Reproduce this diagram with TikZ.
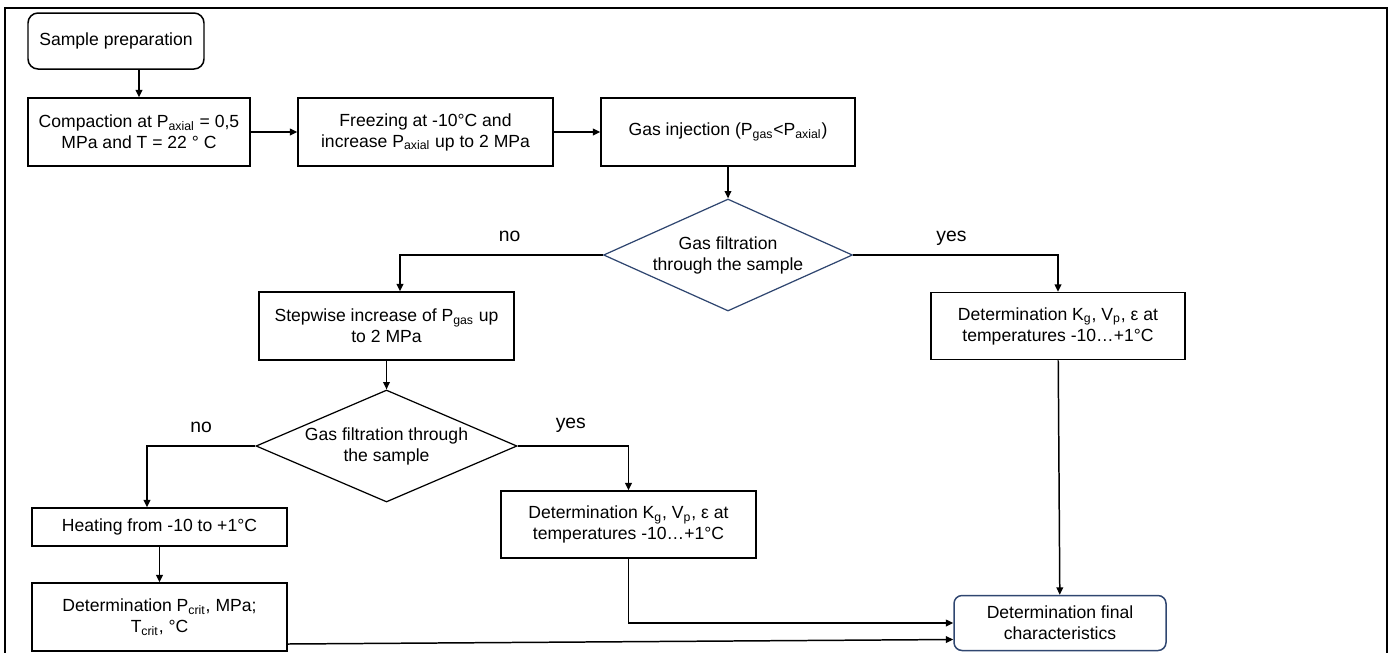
\documentclass[tikz,border=0pt]{standalone}
\usepackage{fontspec}
\setmainfont{Liberation Sans}
\usetikzlibrary{shapes.geometric,positioning,arrows.meta}
\definecolor{navy}{RGB}{47,70,112}

\begin{document}
\begin{tikzpicture}[>={Triangle[length=4.2pt,width=3.8pt]},line width=0.85pt,on grid,
    font=\fontsize{10}{12}\selectfont,
    box/.style={draw,rectangle,align=center,minimum width=5.1cm,minimum height=1.36cm,inner sep=2pt},
    roundbox/.style={box,rounded corners=0.2cm},
    decision/.style={draw,diamond,align=center,inner sep=0pt,aspect=2.2,line width=0.7pt,
                     minimum width=4.98cm,minimum height=2.24cm},
    lbl/.style={anchor=base,yshift=0.28cm,font=\fontsize{11}{13}\selectfont}]
    % \draw[help lines] (0,0) grid (28,-13);
    \useasboundingbox (0,0) rectangle (27.88,-13.04);
    \draw (0.1,-13.1) -- (0.1,-0.16) -- (27.74,-0.16) -- (27.74,-13.1);

    \node[roundbox,minimum width=3.52cm,minimum height=1.12cm] (prep) at (2.32,-0.82) {Sample preparation};
    \node[box,minimum width=4.44cm] (comp) [below right=1.82cm and 0.46cm of prep] {Compaction at P\textsubscript{axial} = 0,5\\MPa and T = 22 ° C};
    \node[box]          (freeze) [right=5.73cm of comp]   {Freezing at -10°C and\\increase P\textsubscript{axial} up to 2 MPa};
    \node[box,minimum width=5.08cm] (inject) [right=6.05cm of freeze] {Gas injection (P\textsubscript{gas}<P\textsubscript{axial})};
    \node[decision,draw=navy] (filt) [below=2.46cm of inject] {Gas filtration\\through the sample};

    \node[box]          (stepP)  [below left=1.42cm and 6.83cm of filt] {Stepwise increase of P\textsubscript{gas} up\\to 2 MPa};
    \node[box,minimum width=5.08cm,minimum height=1.34cm] (detA) [right=13.43cm of stepP] {Determination K\textsubscript{g}, V\textsubscript{p}, ε at\\temperatures -10…+1°C};
    \node[decision,minimum width=5.22cm] (filtB) [below=2.4cm of stepP] {Gas filtration through\\the sample};

    \node[box,minimum height=0.76cm] (heat) [below left=1.62cm and 4.54cm of filtB] {Heating from -10 to +1°C};
    \node[box,minimum height=1.34cm] (detB) [below right=1.57cm and 4.84cm of filtB] {Determination K\textsubscript{g}, V\textsubscript{p}, ε at\\temperatures -10…+1°C};
    \node[box]          (crit)   [below=1.8cm of heat]    {Determination P\textsubscript{crit}, MPa;\\T\textsubscript{crit}, °C};
    \node[roundbox,draw=navy,minimum width=4.24cm,minimum height=1.1cm,rounded corners=0.16cm] (final) [below right=5.94cm and 0.04cm of detA] {Determination final\\characteristics};

    \draw[->] (prep.south -| comp.north) -- (comp.north);
    \path[->]
        (comp)   edge (freeze)
        (freeze) edge (inject)
        (inject) edge (filt)
        (stepP)  edge (filtB)
        (heat)   edge (crit)
        (detA)   edge (final);

    \draw[->] (filt.west)  -| node[lbl,pos=0.23] (no1)  {no}  ([xshift=0.27cm]stepP.north);
    \draw[->] (filt.east)  -| node[lbl,pos=0.24] (yes1) {yes} (detA.north);
    \draw[->] (filtB.west) -| node[lbl,pos=0.25] (no2)  {no}  ([xshift=-0.25cm]heat.north);
    \draw[->] (filtB.east) -| node[lbl,pos=0.24,yshift=0.08cm] (yes2) {yes} (detB.north);
    \draw[->] (detB.south) |- (final.west);
    \draw[->] ([yshift=-0.54cm]crit.east) -- ([yshift=-0.33cm]final.west);
\end{tikzpicture}
\end{document}
